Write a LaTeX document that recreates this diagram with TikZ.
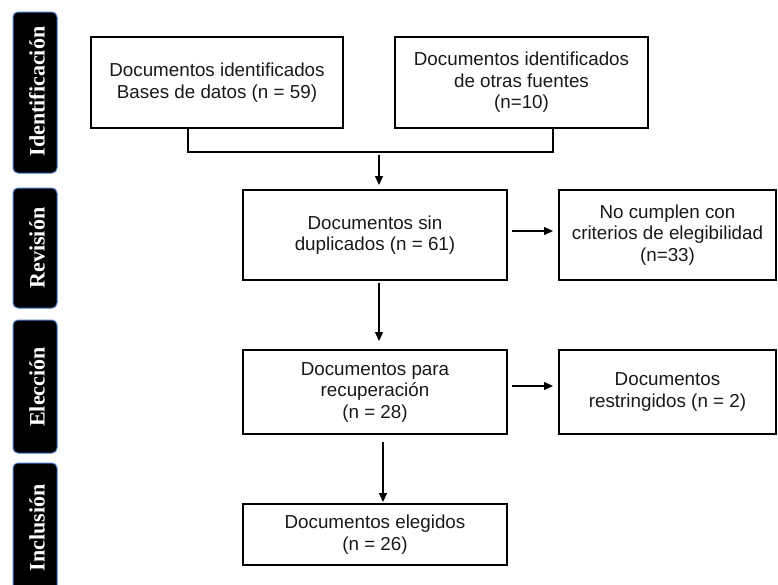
\documentclass[tikz,border=0pt]{standalone}
\usepackage{fontspec}
\setmainfont{Liberation Sans}
\newfontfamily\sidefont{Liberation Serif}
\usetikzlibrary{arrows.meta}
\definecolor{sideedge}{HTML}{4A78C8}
\tikzset{
  box/.style={draw=black, line width=1.4pt, inner sep=0pt, outer sep=0pt, align=center,
    font=\fontsize{18.8pt}{21.5pt}\selectfont, text=black!90},
  arr/.style={line width=1.3pt, -{Triangle[length=9pt,width=8pt]}},
  conn/.style={line width=1.3pt},
  sidebox/.style={fill=black, draw=sideedge, line width=1pt, rounded corners=5pt,
    minimum width=44pt, inner sep=0pt, outer sep=0pt},
  sidetext/.style={text=white, rotate=90, font=\sidefont\bfseries\fontsize{22pt}{24pt}\selectfont, inner sep=0pt}
}
\begin{document}
\begin{tikzpicture}[x=1pt, y=-1pt]
\useasboundingbox (0,0) rectangle (778,584);
% side labels
\node[sidebox, minimum height=161pt] (s1) at (35,92.5) {};
\node[sidetext] (t1) at (37,91.5) {Identificación};
\node[sidebox, minimum height=120pt] (s2) at (35,248) {};
\node[sidetext] (t2) at (37,248) {Revisión};
\node[sidebox, minimum height=133pt] (s3) at (35,386.5) {};
\node[sidetext] (t3) at (37,387) {Elección};
\node[sidebox, minimum height=140pt] (s4) at (35,533) {};
\node[sidetext] (t4) at (37,528) {Inclusión};
% boxes
\node[box, minimum width=252pt, minimum height=91pt] (A) at (217,82.5) {Documentos identificados\\Bases de datos (n = 59)};
\node[box, minimum width=253pt, minimum height=91pt] (B) at (521.5,82.5) {Documentos identificados\\de otras fuentes\\(n=10)};
\node[box, minimum width=264pt, minimum height=90pt] (C) at (375,235) {Documentos sin\\duplicados (n = 61)};
\node[box, minimum width=217pt, minimum height=90pt] (D) at (667.5,235) {No cumplen con\\criterios de elegibilidad\\(n=33)};
\node[box, minimum width=264pt, minimum height=84pt] (E) at (375,392) {Documentos para\\recuperación\\(n = 28)};
\node[box, minimum width=217pt, minimum height=84pt] (F) at (667.5,392) {Documentos\\restringidos (n = 2)};
\node[box, minimum width=264pt, minimum height=61pt] (G) at (375,534.5) {Documentos elegidos\\(n = 26)};
% connectors
\coordinate (jl) at (188,152);
\coordinate (jr) at (553,152);
\coordinate (jm) at (379,152);
\draw[conn] (A.south -| jl) -- (jl) -- (jr) -- (B.south -| jr);
\draw[arr, shorten <=3pt, shorten >=5pt] (jm) -- (C.north -| jm);
\draw[arr, shorten <=5pt, shorten >=6pt] ([yshift=4pt]C.east) -- ([yshift=4pt]D.west);
\draw[arr, shorten <=3pt, shorten >=9pt] ([xshift=4pt]C.south) -- ([xshift=4pt]E.north);
\draw[arr, shorten <=5pt, shorten >=6pt] ([yshift=6pt]E.east) -- ([yshift=6pt]F.west);
\draw[arr, shorten <=8pt, shorten >=2pt] ([xshift=8pt]E.south) -- ([xshift=8pt]G.north);
\end{tikzpicture}
\end{document}
